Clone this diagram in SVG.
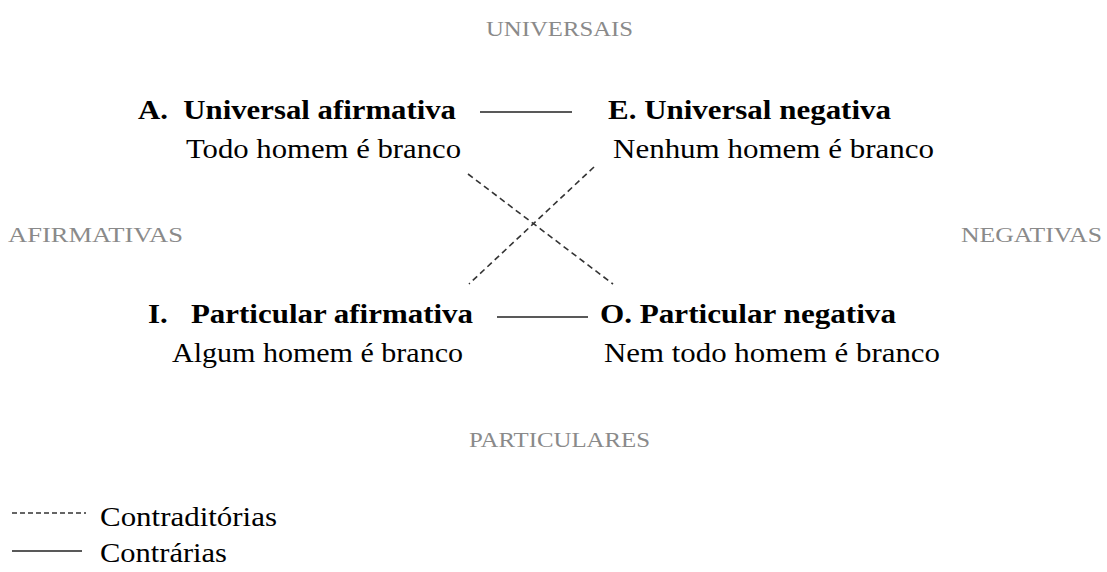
<svg xmlns="http://www.w3.org/2000/svg" width="1107" height="572" viewBox="0 0 1107 572">
<style>
.t{font-family:"Liberation Serif","Times New Roman",serif;font-size:27px;fill:#000}
.b{font-weight:bold}
.g{font-family:"Liberation Serif","Times New Roman",serif;font-size:20px;fill:#8a8a8a}
.solid{stroke:#222;stroke-width:1.6;fill:none}
.dash{stroke:#333;stroke-width:1.6;stroke-dasharray:6,4;fill:none}
</style>
<rect width="1107" height="572" fill="#fff"/>
<g id="labels">
<text class="g" x="486" y="36" textLength="147" lengthAdjust="spacingAndGlyphs">UNIVERSAIS</text>
<text class="g" x="8" y="242" textLength="175" lengthAdjust="spacingAndGlyphs">AFIRMATIVAS</text>
<text class="g" x="961" y="242" textLength="141" lengthAdjust="spacingAndGlyphs">NEGATIVAS</text>
<text class="g" x="469" y="447" textLength="181" lengthAdjust="spacingAndGlyphs">PARTICULARES</text>
</g>
<g id="nodeA">
<text class="t b" x="138" y="119" textLength="318" lengthAdjust="spacingAndGlyphs" xml:space="preserve">A.  Universal afirmativa</text>
<text class="t" x="186" y="158" textLength="275" lengthAdjust="spacingAndGlyphs">Todo homem é branco</text>
</g>
<g id="nodeE">
<text class="t b" x="608" y="119" textLength="283" lengthAdjust="spacingAndGlyphs">E. Universal negativa</text>
<text class="t" x="613" y="158" textLength="321" lengthAdjust="spacingAndGlyphs">Nenhum homem é branco</text>
</g>
<g id="nodeI">
<text class="t b" x="148" y="323" textLength="325" lengthAdjust="spacingAndGlyphs" xml:space="preserve">I.   Particular afirmativa</text>
<text class="t" x="172" y="362" textLength="291" lengthAdjust="spacingAndGlyphs">Algum homem é branco</text>
</g>
<g id="nodeO">
<text class="t b" x="600" y="323" textLength="296" lengthAdjust="spacingAndGlyphs">O. Particular negativa</text>
<text class="t" x="604" y="362" textLength="336" lengthAdjust="spacingAndGlyphs">Nem todo homem é branco</text>
</g>
<g id="connectors">
<line class="solid" x1="480" y1="112" x2="572" y2="112"/>
<line class="solid" x1="497" y1="317" x2="588" y2="317"/>
<line class="dash" x1="468" y1="174" x2="613" y2="284"/>
<line class="dash" x1="594" y1="167" x2="469" y2="284"/>
</g>
<g id="legend">
<line class="dash" x1="12" y1="513" x2="86" y2="513" style="stroke-dasharray:5,3"/>
<text class="t" x="100" y="526" textLength="177" lengthAdjust="spacingAndGlyphs">Contraditórias</text>
<line class="solid" x1="12" y1="551" x2="82" y2="551"/>
<text class="t" x="100" y="562" textLength="127" lengthAdjust="spacingAndGlyphs">Contrárias</text>
</g>
</svg>
